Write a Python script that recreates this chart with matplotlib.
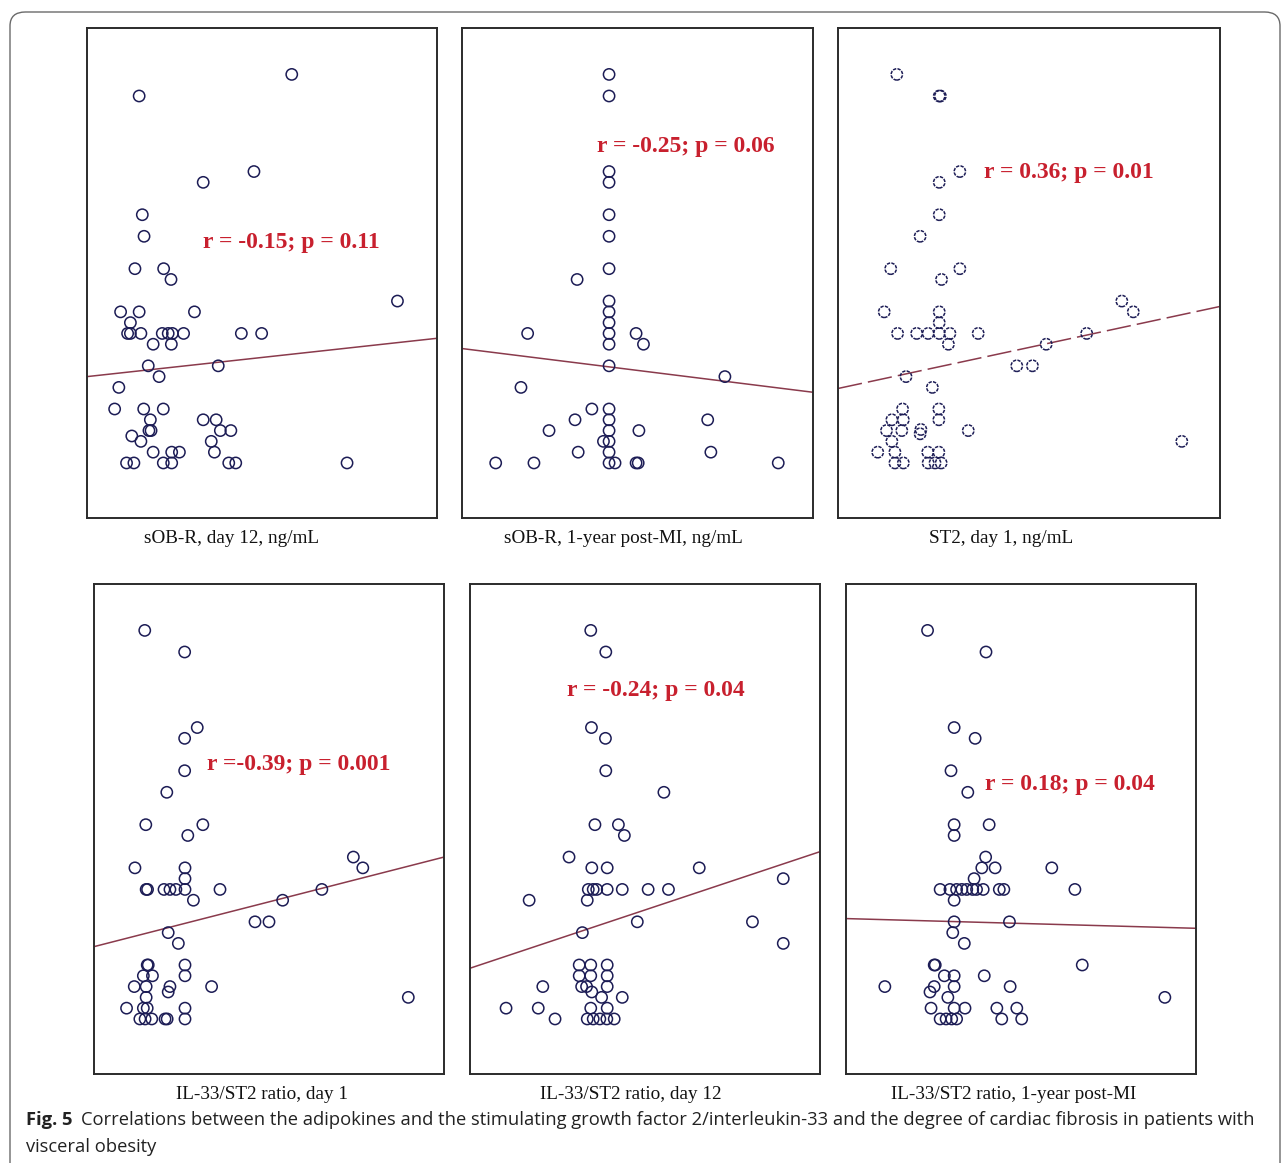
import numpy as np
import matplotlib
matplotlib.use("Agg")
import matplotlib.pyplot as plt
from matplotlib.patches import FancyBboxPatch

# values: x in relative units (0-100 across each panel),
# y = degree of cardiac fibrosis (same scale in all panels)
p1_x = [58.5, 14.9, 47.7, 33.2, 15.8, 16.3, 13.7, 21.9, 24.0, 88.7, 9.6, 14.9, 30.7, 12.4,
        11.6, 12.4, 15.4, 21.5, 23.2, 24.4, 27.6, 44.1, 49.9, 18.9, 24.1, 17.5, 37.5, 20.6,
        9.1, 7.9, 16.2, 21.8, 18.1, 33.2, 36.9, 17.7, 18.3, 38.1, 41.1, 12.8, 15.4, 35.5,
        18.9, 24.2, 26.4, 36.4, 11.3, 13.4, 21.8, 24.2, 40.5, 42.5, 74.3]
p1_y = [41, 39, 32, 31, 28, 26, 23, 23, 22, 20, 19, 19, 19, 18,
        17, 17, 17, 17, 17, 17, 17, 17, 17, 16, 16, 14, 14, 13,
        12, 10, 10, 10, 9, 9, 9, 8, 8, 8, 8, 7.5, 7, 7,
        6, 6, 6, 6, 5, 5, 5, 5, 5, 5, 5]

p2_x = [41.9, 41.9, 41.9, 41.9, 41.9, 41.9, 41.9, 32.8, 41.9, 41.9, 41.9, 41.9, 41.9,
        18.7, 49.6, 51.7, 41.9, 74.9, 16.8, 41.9, 37.0, 32.2, 41.9, 70.0, 24.8, 41.9,
        50.4, 40.3, 41.9, 33.1, 41.9, 70.9, 9.6, 20.5, 41.9, 43.6, 50.2, 49.6, 90.1]
p2_y = [41, 39, 32, 31, 28, 26, 23, 22, 20, 19, 18, 17, 16,
        17, 17, 16, 14, 13, 12, 10, 10, 9, 9, 9, 8, 8,
        8, 7, 7, 6, 6, 6, 5, 5, 5, 5, 5, 5, 5]

p3_x = [15.4, 26.5, 26.8, 31.9, 26.5, 26.5, 21.5, 13.8, 31.9, 27.1, 74.3, 77.3, 12.1, 26.5,
        26.5, 15.6, 20.6, 23.6, 26.5, 29.3, 36.7, 28.9, 65.1, 54.5, 46.8, 50.9, 17.8, 24.7,
        16.9, 26.4, 26.4, 14.1, 17.1, 12.7, 16.7, 21.5, 21.7, 34.1, 14.1, 90.0, 10.4, 14.9,
        23.5, 26.4, 14.9, 17.1, 23.6, 25.4, 27.0]
p3_y = [41, 39, 39, 32, 31, 28, 26, 23, 23, 22, 20, 19, 19, 19,
        18, 17, 17, 17, 17, 17, 17, 16, 17, 16, 14, 14, 13, 12,
        10, 10, 9, 9, 9, 8, 8, 7.7, 8.1, 8, 7, 7, 6, 6,
        6, 6, 5, 5, 5, 5, 5]

p4_x = [14.5, 25.9, 29.5, 25.9, 25.9, 20.8, 14.8, 31.1, 26.8, 74.1, 11.7, 26.0, 76.8, 26.0,
        14.9, 15.3, 20.0, 21.7, 23.4, 26.0, 36.0, 65.1, 28.4, 53.9, 46.0, 50.0, 21.2, 24.1,
        15.2, 15.5, 26.0, 14.1, 16.7, 26.0, 11.5, 14.9, 21.7, 21.2, 33.6, 14.9, 89.8, 9.3,
        14.1, 15.2, 26.0, 13.1, 14.6, 16.5, 20.3, 20.9, 26.0]
p4_y = [41, 39, 32, 31, 28, 26, 23, 23, 22, 20, 19, 19, 19, 18,
        17, 17, 17, 17, 17, 17, 17, 17, 16, 16, 14, 14, 13, 12,
        10, 10, 10, 9, 9, 9, 8, 8, 8, 7.5, 8, 7, 7, 6,
        6, 6, 6, 5, 5, 5, 5, 5, 5]

p5_x = [34.5, 38.8, 34.7, 38.7, 38.8, 55.4, 35.7, 42.4, 44.1, 28.3, 34.8, 39.2, 65.5, 89.5,
        33.8, 35.2, 36.2, 39.2, 43.5, 50.9, 56.7, 16.9, 33.5, 47.8, 80.7, 32.1, 89.5,
        31.2, 34.5, 39.2, 31.2, 34.5, 39.2, 31.9, 33.3, 39.2, 20.8, 34.8, 37.6, 43.5,
        10.3, 19.5, 34.5, 39.2, 24.3, 33.5, 35.2, 37.1, 39.1, 41.2]
p5_y = [41, 39, 32, 31, 28, 26, 23, 23, 22, 20, 19, 19, 19, 18,
        17, 17, 17, 17, 17, 17, 17, 16, 16, 14, 14, 13, 12,
        10, 10, 10, 9, 9, 9, 8, 8, 8, 8, 7.5, 7, 7,
        6, 6, 6, 6, 5, 5, 5, 5, 5, 5]

p6_x = [23.3, 40.0, 30.9, 36.9, 30.0, 34.8, 30.9, 30.9, 40.9, 39.9, 38.8, 42.6, 58.8, 36.6,
        26.9, 29.7, 31.6, 33.1, 34.5, 36.2, 37.3, 39.2, 43.8, 45.1, 65.4, 30.9, 30.9, 46.7,
        30.5, 33.8, 25.2, 25.5, 67.5, 28.1, 30.9, 39.5, 11.1, 25.2, 30.9, 46.9, 24.0, 29.1,
        91.1, 24.3, 30.9, 34.0, 43.1, 48.8, 26.9, 28.6, 30.2, 31.6, 44.5, 50.2]
p6_y = [41, 39, 32, 31, 28, 26, 23, 22, 23, 20, 19, 19, 19, 18,
        17, 17, 17, 17, 17, 17, 17, 17, 17, 17, 17, 16, 14, 14,
        13, 12, 10, 10, 10, 9, 9, 9, 8, 8, 8, 8, 7.5, 7,
        7, 6, 6, 6, 6, 6, 5, 5, 5, 5, 5, 5]

# fitted lines (intercept at x=0, slope)
fit_a = [13.0, 15.6, 11.9, 11.7, 9.7, 14.3]
fit_b = [0.0355, -0.0405, 0.076, 0.083, 0.108, -0.009]

xlabels = ["sOB-R, day 12, ng/mL", "sOB-R, 1-year post-MI, ng/mL", "ST2, day 1, ng/mL",
           "IL-33/ST2 ratio, day 1", "IL-33/ST2 ratio, day 12", "IL-33/ST2 ratio, 1-year post-MI"]
stats = ["r = -0.15; p = 0.11", "r = -0.25; p = 0.06", "r = 0.36; p = 0.01",
         "r =-0.39; p = 0.001", "r = -0.24; p = 0.04", "r = 0.18; p = 0.04"]
stat_x = [33.1, 38.5, 38.2, 32.3, 27.7, 39.7]
stat_y = [25.4, 34.35, 31.9, 28.6, 35.4, 26.7]

xs = [p1_x, p2_x, p3_x, p4_x, p5_x, p6_x]
ys = [p1_y, p2_y, p3_y, p4_y, p5_y, p6_y]

W, H = 1284, 1163
fig = plt.figure(figsize=(W / 100, H / 100), dpi=100)

# panel boxes in pixels: left, top, width, height
boxes = [(87, 28, 350, 490), (462, 28, 351, 490), (838, 28, 382, 490),
         (94, 584, 350, 490), (470, 584, 350, 490), (846, 584, 350, 490)]
# x-labels are not quite centred under the panels in the original
label_pos = [0.413, 0.459, 0.427, 0.479, 0.46, 0.48]

serif = ["Liberation Serif", "DejaVu Serif"]

for i, (l, t, w, h) in enumerate(boxes):
    ax = fig.add_axes([l / W, 1 - (t + h) / H, w / W, h / H])
    ax.set_xlim(0, 100)
    ax.set_ylim(-0.1, 45.3)
    ax.set_xticks([])
    ax.set_yticks([])
    for s in ax.spines.values():
        s.set_color("#2b2b2b")
        s.set_linewidth(1.4)

    ls = "-" if i != 2 else (0, (2.2, 0.8))
    ax.scatter(xs[i], ys[i], s=66, facecolors="none", edgecolors="#1c1c55",
               linewidths=1.1, linestyles=ls, zorder=3)

    xl = np.array([0, 100])
    yl = fit_a[i] + fit_b[i] * xl
    lstyle = "-" if i != 2 else (0, (16, 4))
    ax.plot(xl, yl, color="#8a3a4c", lw=1.1, linestyle=lstyle, zorder=2)

    ax.text(stat_x[i], stat_y[i], stats[i], color="#c8202e", fontsize=17,
            fontweight="bold", family=serif, ha="left", va="center", zorder=4)

    ax.text(label_pos[i], -0.041, xlabels[i], transform=ax.transAxes, ha="center",
            va="center", fontsize=13.8, family=serif, color="#111111")

# outer rounded frame
frame = FancyBboxPatch((10 / W, -0.05), 1270 / W, 1 - 12 / H + 0.05,
                       boxstyle="round,pad=0,rounding_size=0.012",
                       transform=fig.transFigure, fill=False,
                       edgecolor="#6a6a6a", lw=1.0, clip_on=False)
fig.patches.append(frame)

cap_font = ["Open Sans", "DejaVu Sans"]
fig_lbl = fig.text(26 / W, 1 - 1120 / H, "Fig. 5", fontsize=13.2, fontweight="bold",
                   family=cap_font, va="center", ha="left", color="#222222")
fig.canvas.draw()
plt.annotate("Correlations between the adipokines and the stimulating growth factor 2/interleukin-33 "
             "and the degree of cardiac fibrosis in patients with",
             xy=(1, 0.5), xycoords=fig_lbl, xytext=(6, 0), textcoords="offset points",
             va="center", ha="left", fontsize=13.2, family=cap_font, color="#222222",
             annotation_clip=False)
fig.text(26 / W, 1 - 1147 / H, "visceral obesity", fontsize=13.2, family=cap_font,
         va="center", ha="left", color="#222222")

fig.savefig("out.png", dpi=100)
